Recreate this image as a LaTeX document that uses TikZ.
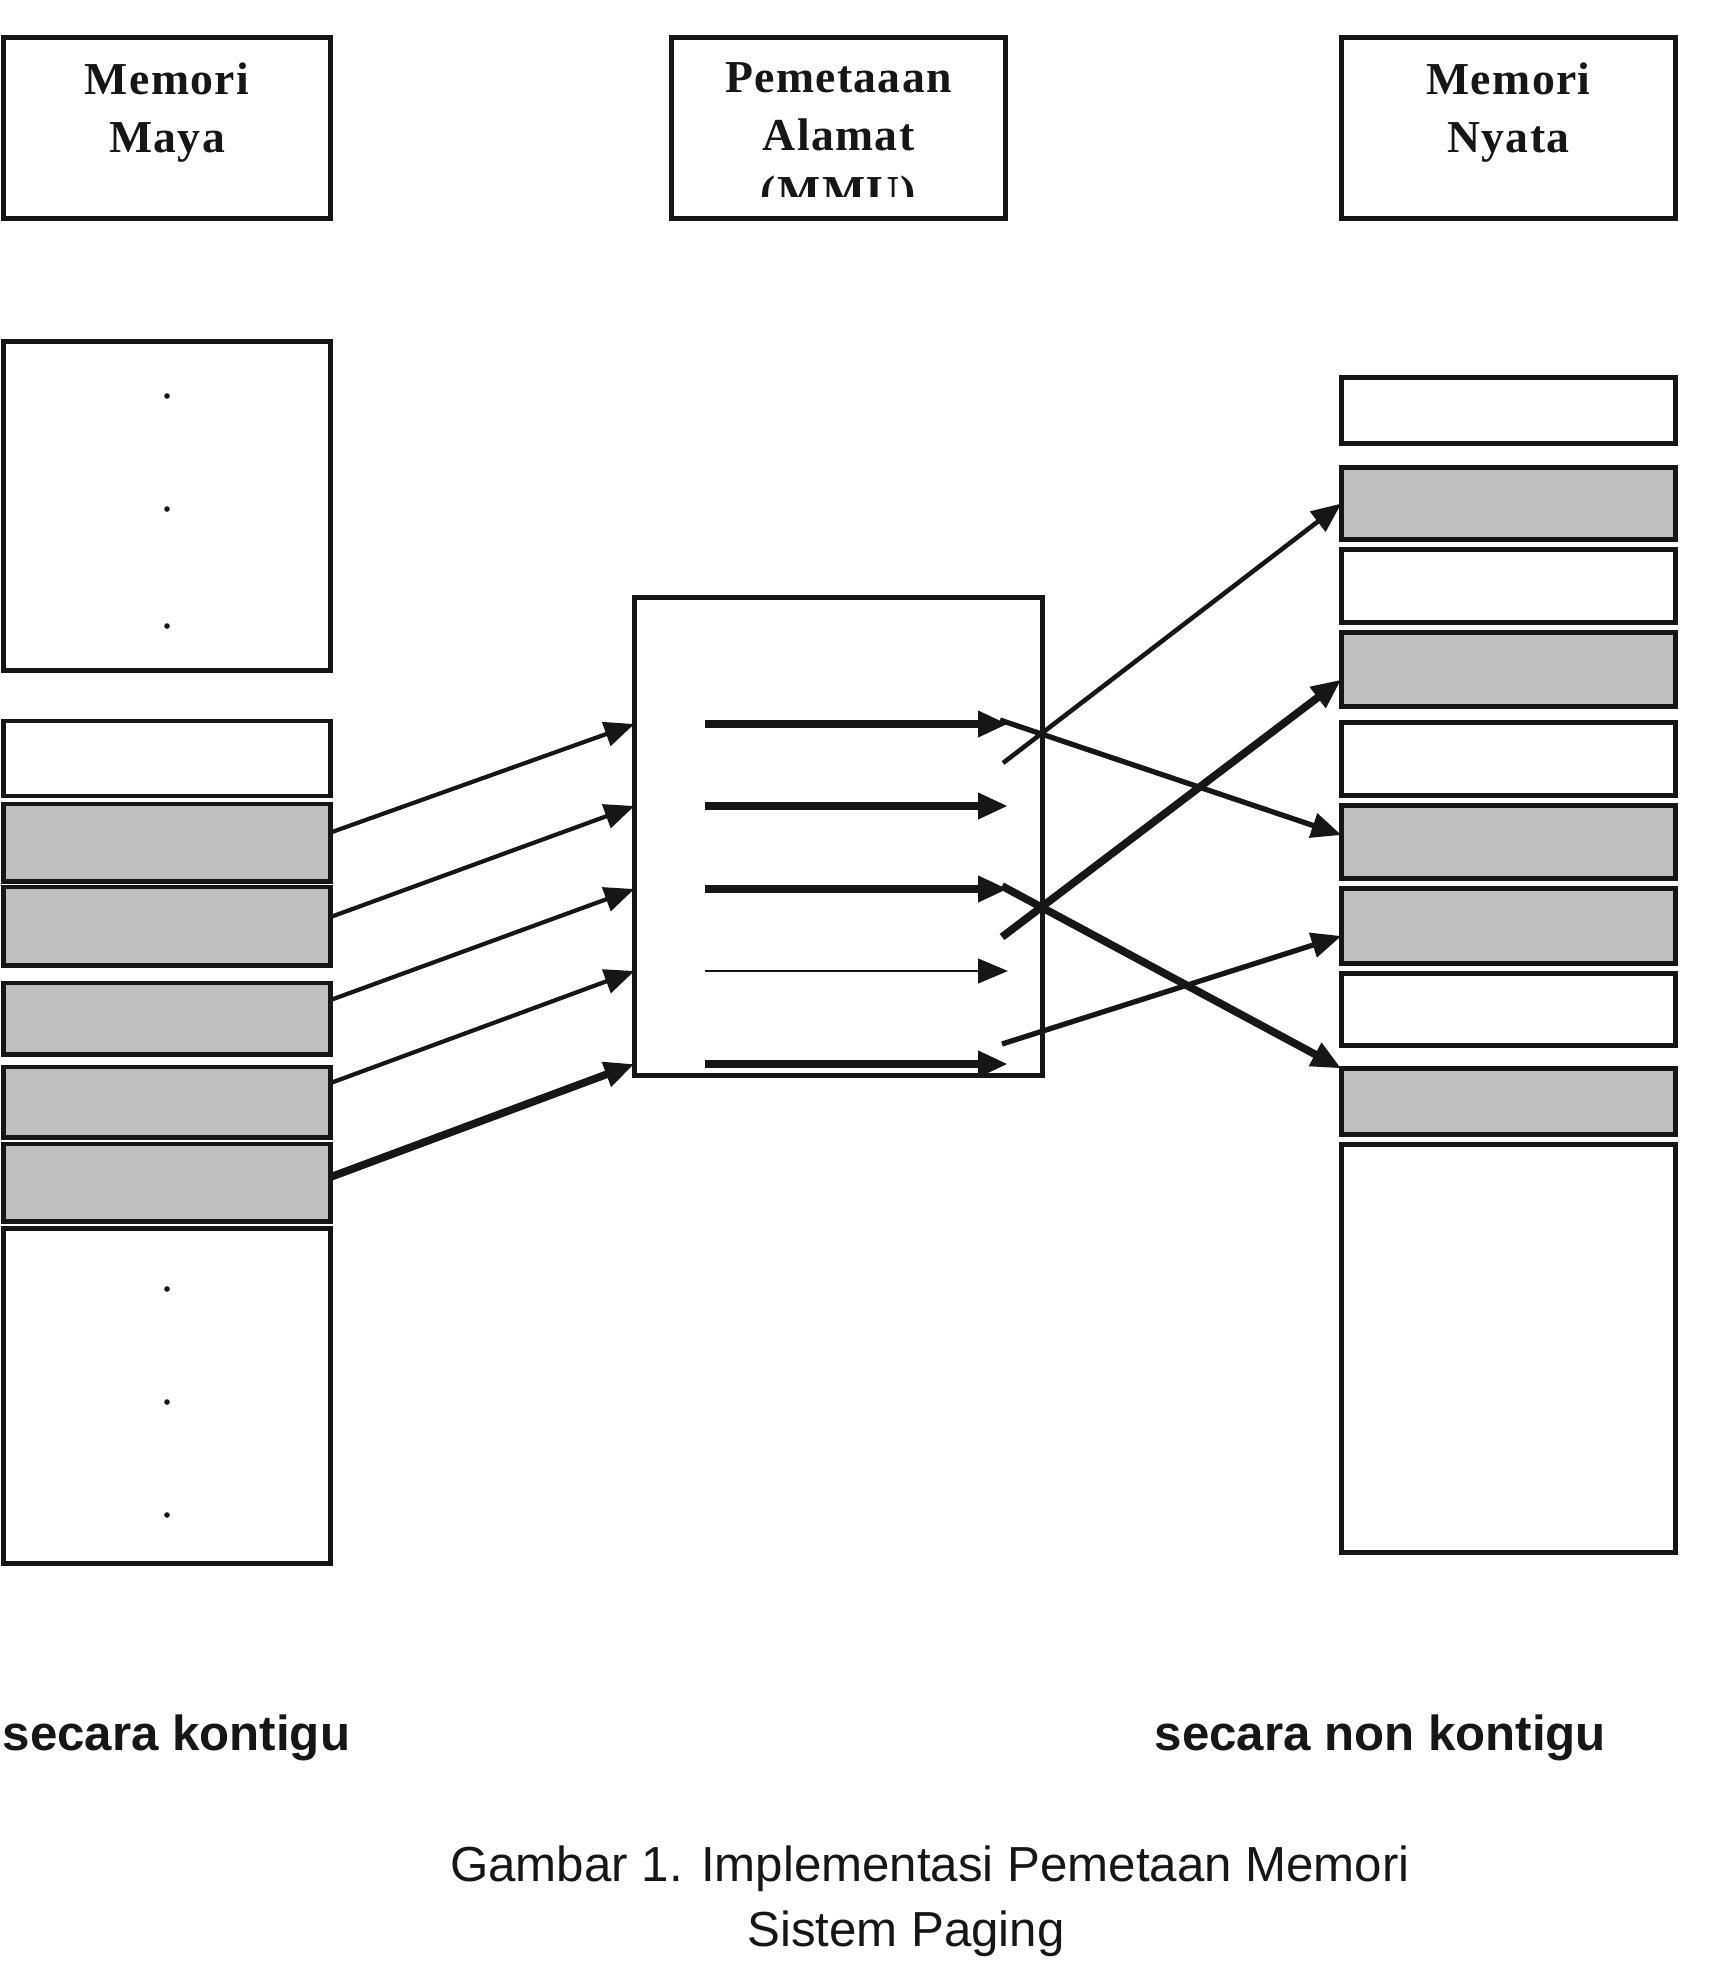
\documentclass[tikz,border=0pt]{standalone}
\usepackage{fontspec}
\setmainfont{Liberation Serif}
\newfontfamily\hdrfont[LetterSpace=3]{Liberation Serif}
\newfontfamily\sansfont{Liberation Sans}
\usetikzlibrary{arrows.meta}
\definecolor{ink}{HTML}{161618}
\definecolor{pagegray}{HTML}{BFBFC1}
\tikzset{
  box/.style={draw=ink, line width=1.4pt, inner sep=0pt, outer sep=0pt},
  pagebox/.style={box, fill=pagegray},
  lcol/.style={minimum width=3.27cm},
  rcol/.style={minimum width=3.34cm},
  dot/.style={circle, fill=ink, inner sep=0pt, minimum size=1.6pt},
  map/.style={draw=ink, -{Triangle[length=8.5pt,width=7pt]}},
  hdr/.style={anchor=north, align=center, inner sep=0pt, text=ink, font=\hdrfont\bfseries\fontsize{13}{16.4}\selectfont},
  note/.style={anchor=base west, inner sep=0pt, text=ink, font=\sansfont\bfseries\fontsize{14}{17}\selectfont},
  capt/.style={anchor=base, inner sep=0pt, text=ink, font=\sansfont\fontsize{14}{17}\selectfont},
}
\begin{document}
\begin{tikzpicture}[x=0.01cm, y=-0.01cm]
\useasboundingbox (0,0) rectangle (1720,1972);
\node[box, lcol, minimum height=1.81cm] (hv) at (167,128) {};
\node[box, rcol, minimum height=1.81cm] (hm) at (838.5,128) {};
\node[box, rcol, minimum height=1.81cm] (hp) at (1508.5,128) {};
\node[hdr] (tv) at (167,62) {Memori\\Maya};
\begin{scope}
\clip (671.5,37.5) rectangle (1005.5,196);
\node[hdr] (tm) at (838.5,62) {Pemetaaan\\Alamat\\(MMU)};
\end{scope}
\node[hdr] (tp) at (1508.5,62) {Memori\\Nyata};

\node[box, lcol, minimum height=3.29cm] (vtop) at (167,506) {};
\node[dot] (vd1) at (167,396) {};
\node[dot] (vd2) at (167,509) {};
\node[dot] (vd3) at (167,626) {};
\node[box, lcol, minimum height=0.75cm] (v1) at (167,758.5) {};
\node[pagebox, lcol, minimum height=0.77cm] (v2) at (167,842.5) {};
\node[pagebox, lcol, minimum height=0.78cm] (v3) at (167,926) {};
\node[pagebox, lcol, minimum height=0.71cm] (v4) at (167,1018.5) {};
\node[pagebox, lcol, minimum height=0.70cm] (v5) at (167,1102) {};
\node[pagebox, lcol, minimum height=0.77cm] (v6) at (167,1182.5) {};
\node[box, lcol, minimum height=3.34cm] (vbot) at (167,1396) {};
\node[dot] (vd4) at (167,1289) {};
\node[dot] (vd5) at (167,1402) {};
\node[dot] (vd6) at (167,1515) {};

\node[box, rcol, minimum height=0.66cm] (p1) at (1508.5,410.5) {};
\node[pagebox, rcol, minimum height=0.72cm] (p2) at (1508.5,503.5) {};
\node[box, rcol, minimum height=0.73cm] (p3) at (1508.5,586) {};
\node[pagebox, rcol, minimum height=0.74cm] (p4) at (1508.5,669.5) {};
\node[box, rcol, minimum height=0.73cm] (p5) at (1508.5,759) {};
\node[pagebox, rcol, minimum height=0.73cm] (p6) at (1508.5,842) {};
\node[pagebox, rcol, minimum height=0.75cm] (p7) at (1508.5,926) {};
\node[box, rcol, minimum height=0.72cm] (p8) at (1508.5,1009.5) {};
\node[pagebox, rcol, minimum height=0.66cm] (p9) at (1508.5,1101.5) {};
\node[box, rcol, minimum height=4.08cm] (p10) at (1508.5,1348.5) {};

\node[box, minimum width=4.08cm, minimum height=4.78cm] (mmu) at (838.5,836.5) {};
\coordinate (m1) at (705,724);
\coordinate (m2) at (705,806);
\coordinate (m3) at (705,889);
\coordinate (m4) at (705,971);
\coordinate (m5) at (705,1064);
\coordinate (e1) at (1008,724);
\coordinate (e2) at (1008,806);
\coordinate (e3) at (1008,889);
\coordinate (e4) at (1008,971);
\coordinate (e5) at (1008,1064);
\coordinate (o1) at (1000,720);
\coordinate (o2) at (1003,763);
\coordinate (o3) at (1002,886);
\coordinate (o4) at (1002,937);
\coordinate (o5) at (1002,1044);

\path[map, line width=1.2pt] ([yshift=1mm]v2.east) -- (mmu.west |- m1);
\path[map, line width=1.2pt] ([yshift=0.9mm]v3.east) -- (mmu.west |- m2);
\path[map, line width=1.2pt] ([yshift=1.85mm]v4.east) -- (mmu.west |- m3);
\path[map, line width=1.2pt] ([yshift=1.9mm]v5.east) -- (mmu.west |- m4);
\path[map, line width=2.2pt] ([yshift=0.55mm]v6.east) -- (mmu.west |- m5);

\path[map, line width=2.2pt] (m1) -- (e1);
\path[map, line width=2.2pt] (m2) -- (e2);
\path[map, line width=2.2pt] (m3) -- (e3);
\path[map, line width=0.6pt] (m4) -- (e4);
\path[map, line width=2.2pt] (m5) -- (e5);

\path[map, line width=1.5pt] (o1) -- ([yshift=0.7mm]p6.west);
\path[map, line width=1.3pt] (o2) -- (p2.west);
\path[map, line width=2.2pt] (o3) -- (p9.north west);
\path[map, line width=2.2pt] (o4) -- ([yshift=-1mm]p4.west);
\path[map, line width=1.5pt] (o5) -- ([yshift=-1mm]p7.west);

\node[note] (lk) at (2,1750) {secara kontigu};
\node[note] (lnk) at (1154,1750) {secara non kontigu};
\node[capt] (c1) at (930,1881) {Gambar 1. Implementasi Pemetaan Memori};
\node[capt] (c2) at (906,1946) {Sistem Paging};
\end{tikzpicture}
\end{document}
